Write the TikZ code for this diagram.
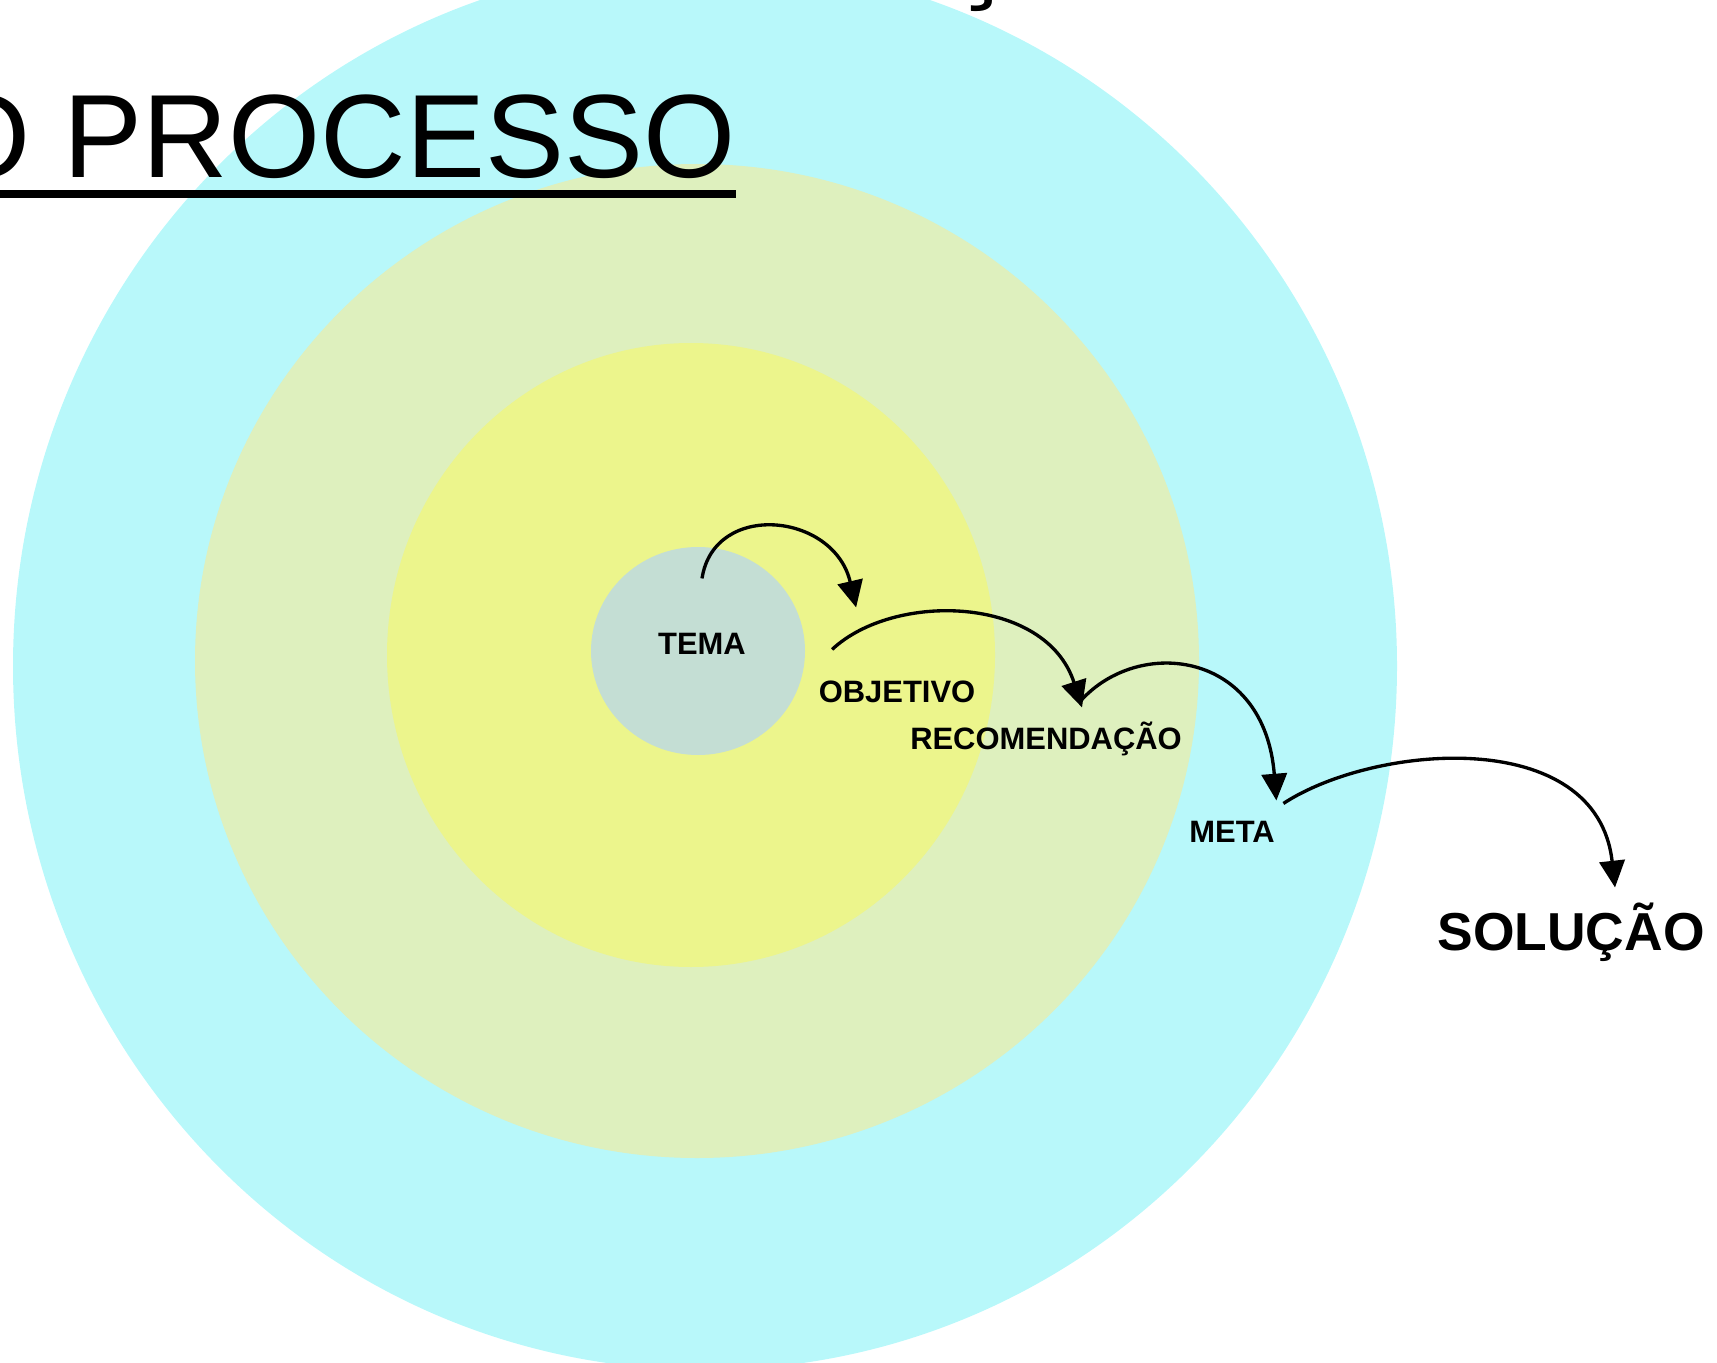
\documentclass[tikz,border=0pt]{standalone}
\usepackage{fontspec}
\setmainfont{Liberation Sans}
\usetikzlibrary{arrows.meta,calc}

\definecolor{anelExterno}{RGB}{184,248,250}
\definecolor{anelMedio}{RGB}{222,240,190}
\definecolor{anelInterno}{RGB}{236,245,140}
\definecolor{nucleoTema}{RGB}{196,222,212}

\begin{document}
\begin{tikzpicture}[x=0.1mm,y=-0.1mm,
  rotulo/.style={
    inner sep=0pt,
    anchor=base,
    text height=1.5ex,text depth=.25ex,
    font=\bfseries\fontsize{8.8}{10}\selectfont,
  },
  seta/.style={
    -{Triangle[length=7.6pt,width=7.2pt]},
    line width=0.95pt,
  }]
\useasboundingbox (0,0) rectangle (1717,1362);
\clip (0,0) rectangle (1717,1362);
% aneis
\fill[anelExterno] (705,666) ellipse [x radius=69.2mm,y radius=70.4mm];
\fill[anelMedio] (697,661) ellipse [x radius=50.2mm,y radius=49.7mm];
\fill[anelInterno] (691,655) ellipse [x radius=30.4mm,y radius=31.2mm];
\fill[nucleoTema] (698,651) ellipse [x radius=10.7mm,y radius=10.4mm];
% titulo
\node[inner sep=0pt,anchor=base east,font=\fontsize{33.7}{40}\selectfont] (titulo) at (736,178) {O PROCESSO};
\draw[line width=0.8mm] ([yshift=-1.6mm]titulo.base west) -- ([yshift=-1.6mm]titulo.base east);
\node[inner sep=0pt,anchor=base,font=\fontsize{33.7}{40}\selectfont] (cedilha) at (984,-13) {¸};
% etapas
\node[rotulo] (tema) at (702,654) {TEMA};
\node[rotulo] (objetivo) at (897,702) {OBJETIVO};
\node[rotulo] (recomendacao) at (1046,749) {RECOMENDAÇÃO};
\node[rotulo] (meta) at (1232,842) {META};
\node[rotulo,font=\bfseries\fontsize{15.2}{18}\selectfont] (solucao) at (1571,950) {SOLUÇÃO};
\draw[seta] ([yshift=4.7mm]tema.north)
  .. controls +(12,-78) and +(-22,-95) .. ([xshift=3.8mm,yshift=6.6mm]objetivo.north west);
\draw[seta] ([xshift=1.4mm,yshift=2.4mm]objetivo.north west)
  .. controls +(62,-58) and +(-36,-112) .. ([xshift=3.6mm,yshift=1.3mm]recomendacao.north);
\draw[seta] ([xshift=3.5mm,yshift=2.0mm]recomendacao.north)
  .. controls +(58,-64) and +(-12,-150) .. ([xshift=0.1mm,yshift=1.3mm]meta.north east);
\draw[seta] ([xshift=0.8mm,yshift=1.0mm]meta.north east)
  .. controls +(92,-60) and +(-18,-162) .. ([xshift=4.4mm,yshift=3.4mm]solucao.north);
\end{tikzpicture}
\end{document}
